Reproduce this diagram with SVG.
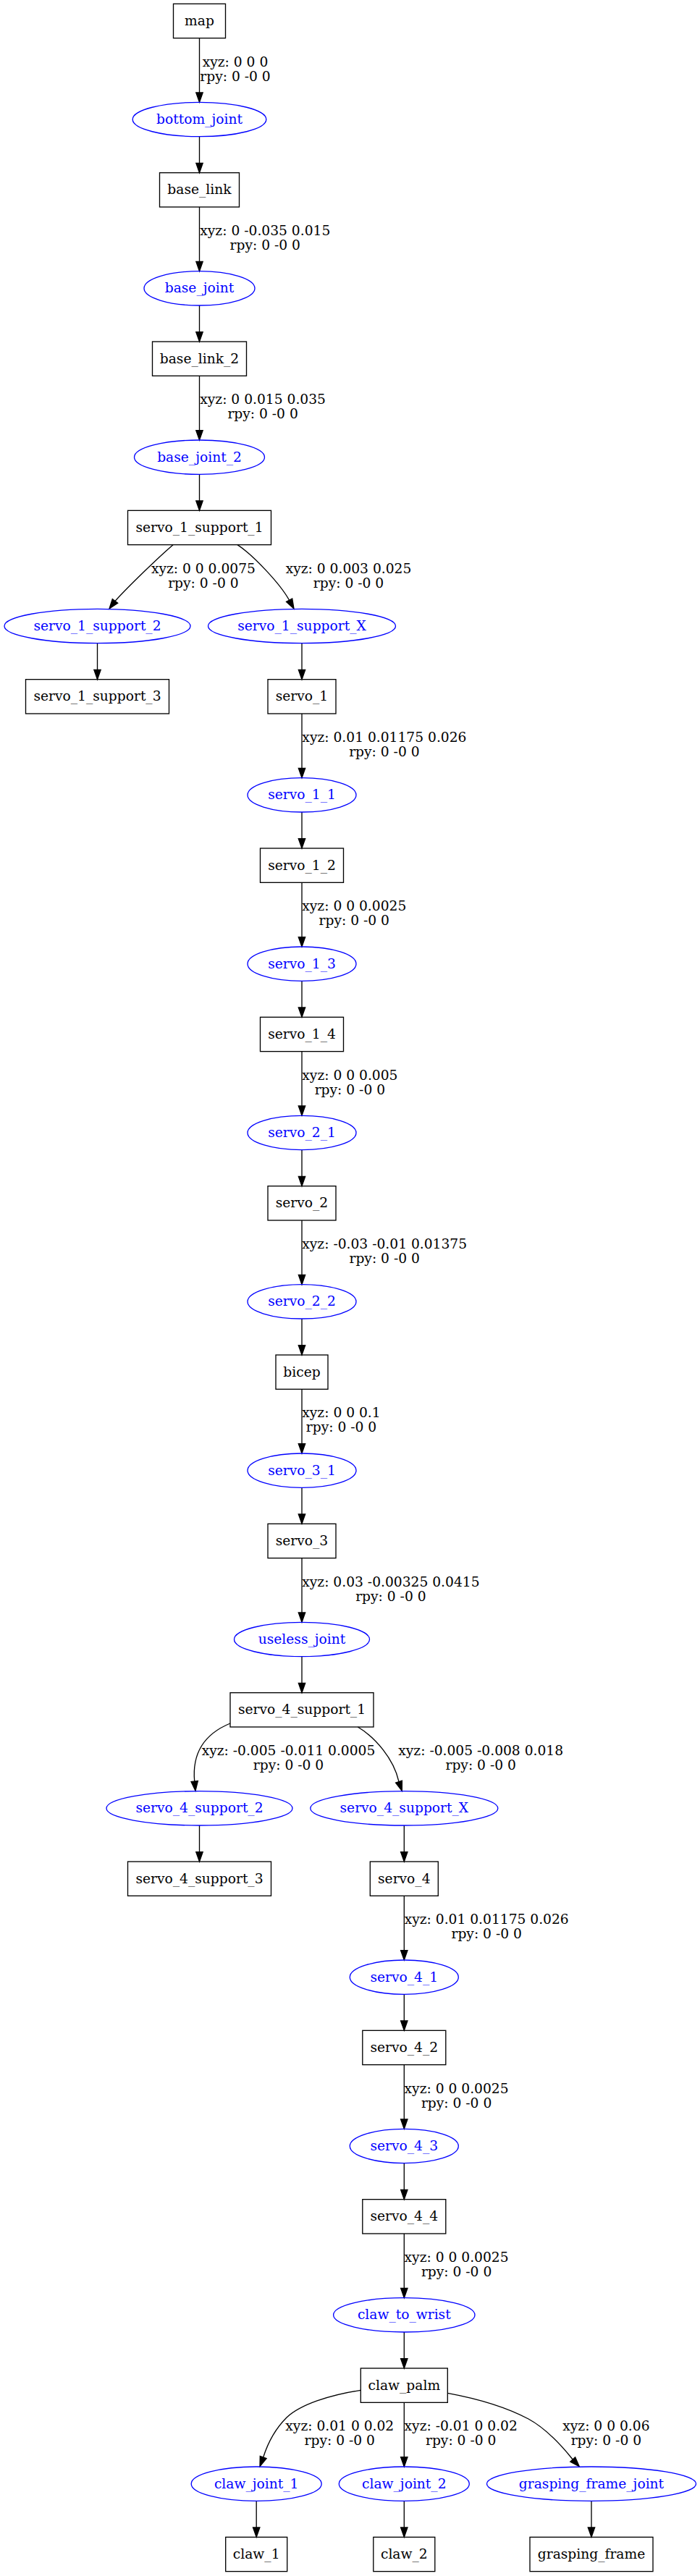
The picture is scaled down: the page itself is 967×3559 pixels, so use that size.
<svg xmlns="http://www.w3.org/2000/svg" width="967" height="3559" viewBox="0 0 967 3559">
<style>
.box{fill:none;stroke:#000;stroke-width:1.33}
.joint{fill:none;stroke:#0000ff;stroke-width:1.33}
.t{font-family:'DejaVu Serif',serif;font-size:18.67px;text-anchor:middle;fill:#000}
.jt{font-family:'DejaVu Serif',serif;font-size:18.67px;text-anchor:middle;fill:#0000ff}
.e{fill:none;stroke:#000;stroke-width:1.33}
.ah{fill:#000;stroke:#000;stroke-width:1.33}
.lb{font-family:'DejaVu Serif',serif;font-size:18.67px;text-anchor:middle;fill:#000}
</style>
<rect x="0" y="0" width="967" height="3559" fill="#fff"/>
<g id="edges">
<!-- box to joint vertical -->
<path class="e" d="M275.5,52.67V128"/><polygon class="ah" points="270.83,128 275.5,141.33 280.17,128"/>
<path class="e" d="M275.5,286V361.33"/><polygon class="ah" points="270.83,361.33 275.5,374.67 280.17,361.33"/>
<path class="e" d="M275.5,519.33V594.67"/><polygon class="ah" points="270.83,594.67 275.5,608 280.17,594.67"/>
<path class="e" d="M417,986V1061.33"/><polygon class="ah" points="412.33,1061.33 417,1074.67 421.67,1061.33"/>
<path class="e" d="M417,1219.33V1294.67"/><polygon class="ah" points="412.33,1294.67 417,1308 421.67,1294.67"/>
<path class="e" d="M417,1452.67V1528"/><polygon class="ah" points="412.33,1528 417,1541.33 421.67,1528"/>
<path class="e" d="M417,1686V1761.33"/><polygon class="ah" points="412.33,1761.33 417,1774.67 421.67,1761.33"/>
<path class="e" d="M417,1919.33V1994.67"/><polygon class="ah" points="412.33,1994.67 417,2008 421.67,1994.67"/>
<path class="e" d="M417,2152.67V2228"/><polygon class="ah" points="412.33,2228 417,2241.33 421.67,2228"/>
<path class="e" d="M558.3,2619.33V2694.67"/><polygon class="ah" points="553.63,2694.67 558.3,2708 562.97,2694.67"/>
<path class="e" d="M558.3,2852.67V2928"/><polygon class="ah" points="553.63,2928 558.3,2941.33 562.97,2928"/>
<path class="e" d="M558.3,3086V3161.33"/><polygon class="ah" points="553.63,3161.33 558.3,3174.67 562.97,3161.33"/>
<path class="e" d="M558.3,3319.33V3394.67"/><polygon class="ah" points="553.63,3394.67 558.3,3408 562.97,3394.67"/>
<!-- joint to box vertical -->
<path class="e" d="M275.5,188.67V225.33"/><polygon class="ah" points="270.83,225.33 275.5,238.67 280.17,225.33"/>
<path class="e" d="M275.5,422V458.67"/><polygon class="ah" points="270.83,458.67 275.5,472 280.17,458.67"/>
<path class="e" d="M275.5,655.33V692"/><polygon class="ah" points="270.83,692 275.5,705.33 280.17,692"/>
<path class="e" d="M134.5,888.67V925.33"/><polygon class="ah" points="129.83,925.33 134.5,938.67 139.17,925.33"/>
<path class="e" d="M417,888.67V925.33"/><polygon class="ah" points="412.33,925.33 417,938.67 421.67,925.33"/>
<path class="e" d="M417,1122V1158.67"/><polygon class="ah" points="412.33,1158.67 417,1172 421.67,1158.67"/>
<path class="e" d="M417,1355.33V1392"/><polygon class="ah" points="412.33,1392 417,1405.33 421.67,1392"/>
<path class="e" d="M417,1588.67V1625.33"/><polygon class="ah" points="412.33,1625.33 417,1638.67 421.67,1625.33"/>
<path class="e" d="M417,1822V1858.67"/><polygon class="ah" points="412.33,1858.67 417,1872 421.67,1858.67"/>
<path class="e" d="M417,2055.33V2092"/><polygon class="ah" points="412.33,2092 417,2105.33 421.67,2092"/>
<path class="e" d="M417,2288.67V2325.33"/><polygon class="ah" points="412.33,2325.33 417,2338.67 421.67,2325.33"/>
<path class="e" d="M275.5,2522V2558.67"/><polygon class="ah" points="270.83,2558.67 275.5,2572 280.17,2558.67"/>
<path class="e" d="M558.3,2522V2558.67"/><polygon class="ah" points="553.63,2558.67 558.3,2572 562.97,2558.67"/>
<path class="e" d="M558.3,2755.33V2792"/><polygon class="ah" points="553.63,2792 558.3,2805.33 562.97,2792"/>
<path class="e" d="M558.3,2988.67V3025.33"/><polygon class="ah" points="553.63,3025.33 558.3,3038.67 562.97,3025.33"/>
<path class="e" d="M558.3,3222V3258.67"/><polygon class="ah" points="553.63,3258.67 558.3,3272 562.97,3258.67"/>
<path class="e" d="M354.2,3455.33V3492"/><polygon class="ah" points="349.53,3492 354.2,3505.33 358.87,3492"/>
<path class="e" d="M558.3,3455.33V3492"/><polygon class="ah" points="553.63,3492 558.3,3505.33 562.97,3492"/>
<path class="e" d="M817,3455.33V3492"/><polygon class="ah" points="812.33,3492 817,3505.33 821.67,3492"/>
<!-- curved -->
<path class="e" d="M239,752.67C219,770 177,810.5 159,830.5"/><polygon class="ah" points="162.7,833.3 151,841 155.3,827.7"/>
<path class="e" d="M328,752.67C350,767 387.6,807.3 399.6,829.3"/><polygon class="ah" points="403.7,827.1 406,841 395.5,831.5"/>
<path class="e" d="M318,2381C284,2395 265,2420 268.7,2461"/><polygon class="ah" points="273.35,2460.55 270,2474.3 264.05,2461.45"/>
<path class="e" d="M494.3,2386C518,2400 544,2430 551,2461.6"/><polygon class="ah" points="555.4,2460.1 555.3,2474.3 546.6,2463.1"/>
<path class="e" d="M498.3,3302.3C455,3309 415,3322 396,3340C380,3356 370,3375 363.7,3395"/><polygon class="ah" points="368.1,3396.6 359,3407.7 359.3,3393.4"/>
<path class="e" d="M618.3,3306.3C660,3314 700,3326 730,3342C752,3354 772,3374 791.2,3398"/><polygon class="ah" points="794.6,3394.8 800.3,3407.7 787.8,3401.2"/>
<!-- labels -->
<text class="lb" x="325" y="91.7">xyz: 0 0 0</text><text class="lb" x="325" y="111.7">rpy: 0 -0 0</text>
<text class="lb" x="366.3" y="325">xyz: 0 -0.035 0.015</text><text class="lb" x="366.3" y="345">rpy: 0 -0 0</text>
<text class="lb" x="363.1" y="558.4">xyz: 0 0.015 0.035</text><text class="lb" x="363.1" y="578.4">rpy: 0 -0 0</text>
<text class="lb" x="280.9" y="791.7">xyz: 0 0 0.0075</text><text class="lb" x="280.9" y="811.7">rpy: 0 -0 0</text>
<text class="lb" x="481.5" y="791.7">xyz: 0 0.003 0.025</text><text class="lb" x="481.5" y="811.7">rpy: 0 -0 0</text>
<text class="lb" x="530.9" y="1025">xyz: 0.01 0.01175 0.026</text><text class="lb" x="530.9" y="1045">rpy: 0 -0 0</text>
<text class="lb" x="489.3" y="1258.4">xyz: 0 0 0.0025</text><text class="lb" x="489.3" y="1278.4">rpy: 0 -0 0</text>
<text class="lb" x="483.4" y="1491.7">xyz: 0 0 0.005</text><text class="lb" x="483.4" y="1511.7">rpy: 0 -0 0</text>
<text class="lb" x="531.2" y="1725">xyz: -0.03 -0.01 0.01375</text><text class="lb" x="531.2" y="1745">rpy: 0 -0 0</text>
<text class="lb" x="471.5" y="1958.4">xyz: 0 0 0.1</text><text class="lb" x="471.5" y="1978.4">rpy: 0 -0 0</text>
<text class="lb" x="539.9" y="2191.7">xyz: 0.03 -0.00325 0.0415</text><text class="lb" x="539.9" y="2211.7">rpy: 0 -0 0</text>
<text class="lb" x="398.5" y="2425">xyz: -0.005 -0.011 0.0005</text><text class="lb" x="398.5" y="2445">rpy: 0 -0 0</text>
<text class="lb" x="664.2" y="2425">xyz: -0.005 -0.008 0.018</text><text class="lb" x="664.2" y="2445">rpy: 0 -0 0</text>
<text class="lb" x="672.2" y="2658.4">xyz: 0.01 0.01175 0.026</text><text class="lb" x="672.2" y="2678.4">rpy: 0 -0 0</text>
<text class="lb" x="630.6" y="2891.7">xyz: 0 0 0.0025</text><text class="lb" x="630.6" y="2911.7">rpy: 0 -0 0</text>
<text class="lb" x="630.6" y="3125">xyz: 0 0 0.0025</text><text class="lb" x="630.6" y="3145">rpy: 0 -0 0</text>
<text class="lb" x="469.3" y="3358.4">xyz: 0.01 0 0.02</text><text class="lb" x="469.3" y="3378.4">rpy: 0 -0 0</text>
<text class="lb" x="636.7" y="3358.4">xyz: -0.01 0 0.02</text><text class="lb" x="636.7" y="3378.4">rpy: 0 -0 0</text>
<text class="lb" x="837.4" y="3358.4">xyz: 0 0 0.06</text><text class="lb" x="837.4" y="3378.4">rpy: 0 -0 0</text>
</g>
<g id="map"><rect class="box" x="239.5" y="5.33" width="72" height="47.33"/><text class="t" x="275.5" y="35">map</text></g>
<g id="bottom_joint"><ellipse class="joint" cx="275.5" cy="165" rx="92.3" ry="23.67"/><text class="jt" x="275.5" y="171">bottom_joint</text></g>
<g id="base_link"><rect class="box" x="220.5" y="238.67" width="110" height="47.33"/><text class="t" x="275.5" y="268.33">base_link</text></g>
<g id="base_joint"><ellipse class="joint" cx="275.5" cy="398.33" rx="76.5" ry="23.67"/><text class="jt" x="275.5" y="404.33">base_joint</text></g>
<g id="base_link_2"><rect class="box" x="210.5" y="472" width="130" height="47.33"/><text class="t" x="275.5" y="501.67">base_link_2</text></g>
<g id="base_joint_2"><ellipse class="joint" cx="275.5" cy="631.67" rx="90" ry="23.67"/><text class="jt" x="275.5" y="637.67">base_joint_2</text></g>
<g id="servo_1_support_1"><rect class="box" x="176.5" y="705.33" width="198" height="47.33"/><text class="t" x="275.5" y="735">servo_1_support_1</text></g>
<g id="servo_1_support_2"><ellipse class="joint" cx="134.5" cy="865" rx="128.5" ry="23.67"/><text class="jt" x="134.5" y="871">servo_1_support_2</text></g>
<g id="servo_1_support_X"><ellipse class="joint" cx="417" cy="865" rx="129.5" ry="23.67"/><text class="jt" x="417" y="871">servo_1_support_X</text></g>
<g id="servo_1_support_3"><rect class="box" x="35.5" y="938.67" width="198" height="47.33"/><text class="t" x="134.5" y="968.33">servo_1_support_3</text></g>
<g id="servo_1"><rect class="box" x="370" y="938.67" width="94" height="47.33"/><text class="t" x="417" y="968.33">servo_1</text></g>
<g id="servo_1_1"><ellipse class="joint" cx="417" cy="1098.33" rx="75" ry="23.67"/><text class="jt" x="417" y="1104.33">servo_1_1</text></g>
<g id="servo_1_2"><rect class="box" x="359.5" y="1172" width="115" height="47.33"/><text class="t" x="417" y="1201.67">servo_1_2</text></g>
<g id="servo_1_3"><ellipse class="joint" cx="417" cy="1331.67" rx="75" ry="23.67"/><text class="jt" x="417" y="1337.67">servo_1_3</text></g>
<g id="servo_1_4"><rect class="box" x="359.5" y="1405.33" width="115" height="47.33"/><text class="t" x="417" y="1435">servo_1_4</text></g>
<g id="servo_2_1"><ellipse class="joint" cx="417" cy="1565" rx="75" ry="23.67"/><text class="jt" x="417" y="1571">servo_2_1</text></g>
<g id="servo_2"><rect class="box" x="370" y="1638.67" width="94" height="47.33"/><text class="t" x="417" y="1668.33">servo_2</text></g>
<g id="servo_2_2"><ellipse class="joint" cx="417" cy="1798.33" rx="75" ry="23.67"/><text class="jt" x="417" y="1804.33">servo_2_2</text></g>
<g id="bicep"><rect class="box" x="381" y="1872" width="72" height="47.33"/><text class="t" x="417" y="1901.67">bicep</text></g>
<g id="servo_3_1"><ellipse class="joint" cx="417" cy="2031.67" rx="75" ry="23.67"/><text class="jt" x="417" y="2037.67">servo_3_1</text></g>
<g id="servo_3"><rect class="box" x="370" y="2105.33" width="94" height="47.33"/><text class="t" x="417" y="2135">servo_3</text></g>
<g id="useless_joint"><ellipse class="joint" cx="417" cy="2265" rx="93.5" ry="23.67"/><text class="jt" x="417" y="2271">useless_joint</text></g>
<g id="servo_4_support_1"><rect class="box" x="318" y="2338.67" width="198" height="47.33"/><text class="t" x="417" y="2368.33">servo_4_support_1</text></g>
<g id="servo_4_support_2"><ellipse class="joint" cx="275.5" cy="2498.33" rx="128.5" ry="23.67"/><text class="jt" x="275.5" y="2504.33">servo_4_support_2</text></g>
<g id="servo_4_support_X"><ellipse class="joint" cx="558.3" cy="2498.33" rx="129.5" ry="23.67"/><text class="jt" x="558.3" y="2504.33">servo_4_support_X</text></g>
<g id="servo_4_support_3"><rect class="box" x="176.5" y="2572" width="198" height="47.33"/><text class="t" x="275.5" y="2601.67">servo_4_support_3</text></g>
<g id="servo_4"><rect class="box" x="511.3" y="2572" width="94" height="47.33"/><text class="t" x="558.3" y="2601.67">servo_4</text></g>
<g id="servo_4_1"><ellipse class="joint" cx="558.3" cy="2731.67" rx="75" ry="23.67"/><text class="jt" x="558.3" y="2737.67">servo_4_1</text></g>
<g id="servo_4_2"><rect class="box" x="500.8" y="2805.33" width="115" height="47.33"/><text class="t" x="558.3" y="2835">servo_4_2</text></g>
<g id="servo_4_3"><ellipse class="joint" cx="558.3" cy="2965" rx="75" ry="23.67"/><text class="jt" x="558.3" y="2971">servo_4_3</text></g>
<g id="servo_4_4"><rect class="box" x="500.8" y="3038.67" width="115" height="47.33"/><text class="t" x="558.3" y="3068.33">servo_4_4</text></g>
<g id="claw_to_wrist"><ellipse class="joint" cx="558.3" cy="3198.33" rx="97.7" ry="23.67"/><text class="jt" x="558.3" y="3204.33">claw_to_wrist</text></g>
<g id="claw_palm"><rect class="box" x="498.3" y="3272" width="120" height="47.33"/><text class="t" x="558.3" y="3301.67">claw_palm</text></g>
<g id="claw_joint_1"><ellipse class="joint" cx="354.2" cy="3431.67" rx="90" ry="23.67"/><text class="jt" x="354.2" y="3437.67">claw_joint_1</text></g>
<g id="claw_joint_2"><ellipse class="joint" cx="558.3" cy="3431.67" rx="90" ry="23.67"/><text class="jt" x="558.3" y="3437.67">claw_joint_2</text></g>
<g id="grasping_frame_joint"><ellipse class="joint" cx="817" cy="3431.67" rx="144.5" ry="23.67"/><text class="jt" x="817" y="3437.67">grasping_frame_joint</text></g>
<g id="claw_1"><rect class="box" x="311.7" y="3505.33" width="85" height="47.33"/><text class="t" x="354.2" y="3535">claw_1</text></g>
<g id="claw_2"><rect class="box" x="515.8" y="3505.33" width="85" height="47.33"/><text class="t" x="558.3" y="3535">claw_2</text></g>
<g id="grasping_frame"><rect class="box" x="732" y="3505.33" width="170" height="47.33"/><text class="t" x="817" y="3535">grasping_frame</text></g>
</svg>
